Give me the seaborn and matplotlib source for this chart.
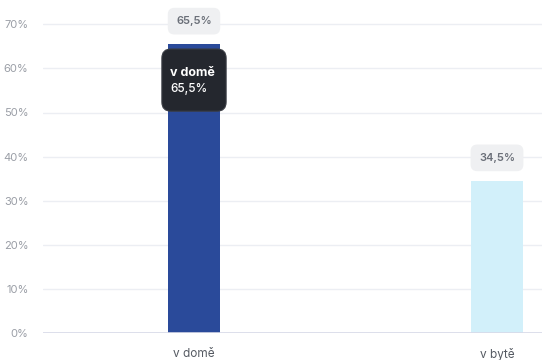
import matplotlib
matplotlib.use("Agg")
import matplotlib.pyplot as plt
import seaborn as sns
import pandas as pd
from matplotlib.patches import FancyBboxPatch

categories = ["v domě", "v bytě"]
values = [65.5, 34.5]
value_labels = ["65,5%", "34,5%"]
colors = ["#2a4a9a", "#d2f0fa"]
yticks = [0, 10, 20, 30, 40, 50, 60, 70]
ytick_labels = ["0%", "10%", "20%", "30%", "40%", "50%", "60%", "70%"]

sns.set_theme(style="white")
plt.rcParams["font.family"] = ["Inter", "DejaVu Sans"]

df = pd.DataFrame({"cat": categories, "val": values})

W, H = 542, 360
PX_PER_PCT = 4.41
fig = plt.figure(figsize=(W / 100, H / 100), dpi=100)
left_px, bottom_px, top_px = 42.5, 333, 0
ax = fig.add_axes([left_px / W, (H - bottom_px) / H, 1 - left_px / W, (bottom_px - top_px) / H])

sns.barplot(data=df, x="cat", y="val", hue="cat", palette=colors, width=0.172,
            legend=False, ax=ax, saturation=1, linewidth=0, zorder=3)

ax.set_xlim(-0.5, -0.5 + (W - left_px) / 303)
ax.set_ylim(0, bottom_px / PX_PER_PCT)
ax.set_yticks(yticks)
ax.set_yticklabels(ytick_labels)
ax.set_xlabel("")
ax.set_ylabel("")
for s in ax.spines.values():
    s.set_visible(False)
ax.grid(axis="y", color="#eceef3", linewidth=1, zorder=0)
ax.axhline(0, color="#d8dae8", linewidth=1.2, zorder=4)
ax.tick_params(axis="y", length=0, pad=10, labelsize=8, labelcolor="#9a9ea6")
ax.tick_params(axis="x", length=0, pad=11, labelsize=8.5, labelcolor="#555a62")

# value bubbles
for i, (v, lab) in enumerate(zip(values, value_labels)):
    y = v + 23 / PX_PER_PCT
    ax.annotate(lab, (i, y), ha="center", va="center", fontsize=8,
                color="#6b7079", fontweight="semibold", zorder=6,
                bbox=dict(boxstyle="round,pad=0.75,rounding_size=0.6",
                          fc="#eff0f2", ec="none"))

# tooltip
ax.text(-0.079, 59.0, "v domě", ha="left", va="center", fontsize=9,
        color="white", fontweight="bold", zorder=8)
ax.text(-0.079, 55.3, "65,5%", ha="left", va="center", fontsize=8.5,
        color="white", fontweight="medium", zorder=8)
tip = FancyBboxPatch((-0.106, 50.3), 0.212, 14.1,
                     boxstyle="round,pad=0,rounding_size=0.03",
                     mutation_aspect=69, fc="#24272e", ec="#3a3d44", lw=0.8, zorder=7)
ax.add_patch(tip)

fig.savefig("out.png", dpi=100)
